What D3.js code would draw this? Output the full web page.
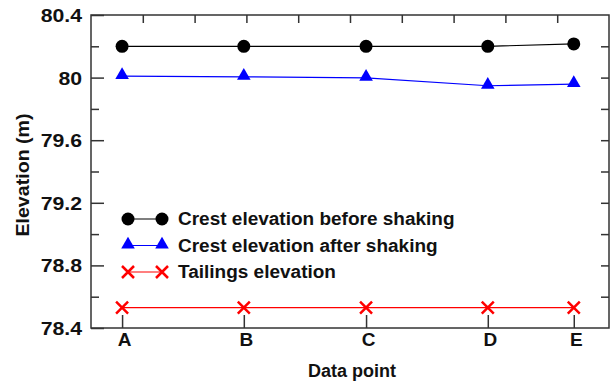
<!DOCTYPE html>
<html>
<head>
<meta charset="utf-8">
<script src="https://cdn.jsdelivr.net/npm/d3@7"></script>
<style>
  body { margin: 0; background: #fff; }
  svg { display: block; font-family: "Liberation Sans", Arial, sans-serif; font-weight: bold; }
</style>
</head>
<body>
<div id="chart"></div>
<script>
// data points along the crest
const categories = ['A', 'B', 'C', 'D', 'E'];
const positions = [0.6, 2.95, 5.31, 7.66, 9.32];
const crestBefore = [80.2, 80.2, 80.2, 80.2, 80.215];
const crestAfter = [80.01, 80.005, 79.998, 79.948, 79.958];
const tailings = [78.53, 78.53, 78.53, 78.53, 78.53];
const yTicks = [78.4, 78.8, 79.2, 79.6, 80, 80.4];
const seriesNames = ['Crest elevation before shaking', 'Crest elevation after shaking', 'Tailings elevation'];

const width = 611, height = 381;
const margin = { top: 15, right: 2, bottom: 53, left: 91 };
const w = width - margin.left - margin.right;
const h = height - margin.top - margin.bottom;

const svg = d3.select('#chart').append('svg')
  .attr('width', width)
  .attr('height', height);

const g = svg.append('g')
  .attr('transform', 'translate(' + margin.left + ',' + margin.top + ')');

const xScale = d3.scaleLinear().domain([0, 10]).range([0, w]);
const yScale = d3.scaleLinear().domain([78.4, 80.4]).range([h, 0]);

const axisColor = '#333';

// the original font is a bit wider than Liberation, stretch text horizontally
function widen(sel, k) {
  sel.each(function () {
    const len = this.getComputedTextLength();
    d3.select(this).attr('textLength', len * k).attr('lengthAdjust', 'spacingAndGlyphs');
  });
}

// frame
g.append('rect')
  .attr('width', w).attr('height', h)
  .attr('fill', 'none').attr('stroke', axisColor).attr('stroke-width', 1.5);

// left axis: major labelled, minor unlabelled, ticks inward
const minorY = d3.range(78.6, 80.4, 0.4);
const leftAxis = g.append('g')
  .call(d3.axisLeft(yScale).tickValues(yTicks).tickSize(-13).tickPadding(9)
    .tickFormat(d => d3.format('')(+d.toFixed(1))));
leftAxis.select('.domain').remove();
leftAxis.selectAll('line').attr('stroke', axisColor).attr('stroke-width', 1.5);
leftAxis.selectAll('text').attr('font-size', 18).attr('font-weight', 'bold')
  .attr('fill', '#111').attr('dy', '0.36em').call(widen, 1.18);

const leftMinor = g.append('g')
  .call(d3.axisLeft(yScale).tickValues(minorY).tickSize(-8).tickFormat(''));
leftMinor.select('.domain').remove();
leftMinor.selectAll('line').attr('stroke', axisColor).attr('stroke-width', 1.5);

// right axis ticks
const rightVals = d3.range(78.6, 80.3, 0.2);
const rightAxis = g.append('g')
  .attr('transform', 'translate(' + w + ',0)')
  .call(d3.axisRight(yScale).tickValues(rightVals).tickSize(-8).tickFormat(''));
rightAxis.select('.domain').remove();
rightAxis.selectAll('line').attr('stroke', axisColor).attr('stroke-width', 1.5);

// top axis ticks
const topAxis = g.append('g')
  .call(d3.axisTop(xScale).tickValues(d3.range(1, 10)).tickSize(-8).tickFormat(''));
topAxis.select('.domain').remove();
topAxis.selectAll('line').attr('stroke', axisColor).attr('stroke-width', 1.5);

// bottom axis at data points
const bottomAxis = g.append('g')
  .attr('transform', 'translate(0,' + h + ')')
  .call(d3.axisBottom(xScale).tickValues(positions).tickSize(-13).tickPadding(5)
    .tickFormat((d, i) => categories[i]));
bottomAxis.select('.domain').remove();
bottomAxis.selectAll('line').attr('stroke', axisColor).attr('stroke-width', 1.5);
bottomAxis.selectAll('text').attr('font-size', 19).attr('font-weight', 'bold')
  .attr('fill', '#111').attr('dx', 2);

// axis titles
svg.append('text')
  .attr('x', margin.left + w / 2 + 2).attr('y', 377)
  .attr('text-anchor', 'middle').attr('font-size', 18).attr('fill', '#111')
  .text('Data point');
svg.append('text')
  .attr('transform', 'translate(29,175) rotate(-90)')
  .attr('text-anchor', 'middle').attr('font-size', 18).attr('fill', '#111')
  .text('Elevation (m)')
  .call(widen, 1.09);

const line = d3.line()
  .x(d => xScale(d[0]))
  .y(d => yScale(d[1]));

function zip(vals) { return vals.map((v, i) => [positions[i], v]); }

const tri = d3.symbol().type(d3.symbolTriangle).size(80);
const series = [
  { name: seriesNames[0], data: zip(crestBefore), color: '#000', marker: 'circle' },
  { name: seriesNames[1], data: zip(crestAfter), color: '#0000ff', marker: 'triangle' },
  { name: seriesNames[2], data: zip(tailings), color: '#ff0000', marker: 'cross' }
];

function drawMarker(sel, s, x, y) {
  if (s.marker === 'circle') {
    sel.append('circle').attr('cx', x).attr('cy', y).attr('r', 6.5).attr('fill', s.color);
  } else if (s.marker === 'triangle') {
    sel.append('path').attr('d', tri())
      .attr('transform', 'translate(' + x + ',' + (y - 1) + ')').attr('fill', s.color);
  } else {
    const r = 6;
    sel.append('path')
      .attr('d', 'M' + (x - r) + ',' + (y - r) + 'L' + (x + r) + ',' + (y + r) +
        'M' + (x - r) + ',' + (y + r) + 'L' + (x + r) + ',' + (y - r))
      .attr('stroke', s.color).attr('stroke-width', 2.5).attr('fill', 'none');
  }
}

series.forEach(s => {
  g.append('path')
    .attr('d', line(s.data))
    .attr('fill', 'none').attr('stroke', s.color).attr('stroke-width', 1.2);
  const mg = g.append('g');
  s.data.forEach(d => drawMarker(mg, s, xScale(d[0]), yScale(d[1])));
});

// legend
const legend = svg.append('g');
series.forEach((s, i) => {
  const y = 219 + i * 26.5;
  legend.append('line')
    .attr('x1', 128).attr('x2', 162).attr('y1', y).attr('y2', y)
    .attr('stroke', s.color).attr('stroke-width', 1.2);
  drawMarker(legend, s, 128, y);
  drawMarker(legend, s, 162, y);
  legend.append('text')
    .attr('x', 178).attr('y', y).attr('dy', '0.36em')
    .attr('font-size', 18).attr('fill', '#111')
    .text(s.name)
    .call(widen, 1.055);
});
</script>
</body>
</html>
